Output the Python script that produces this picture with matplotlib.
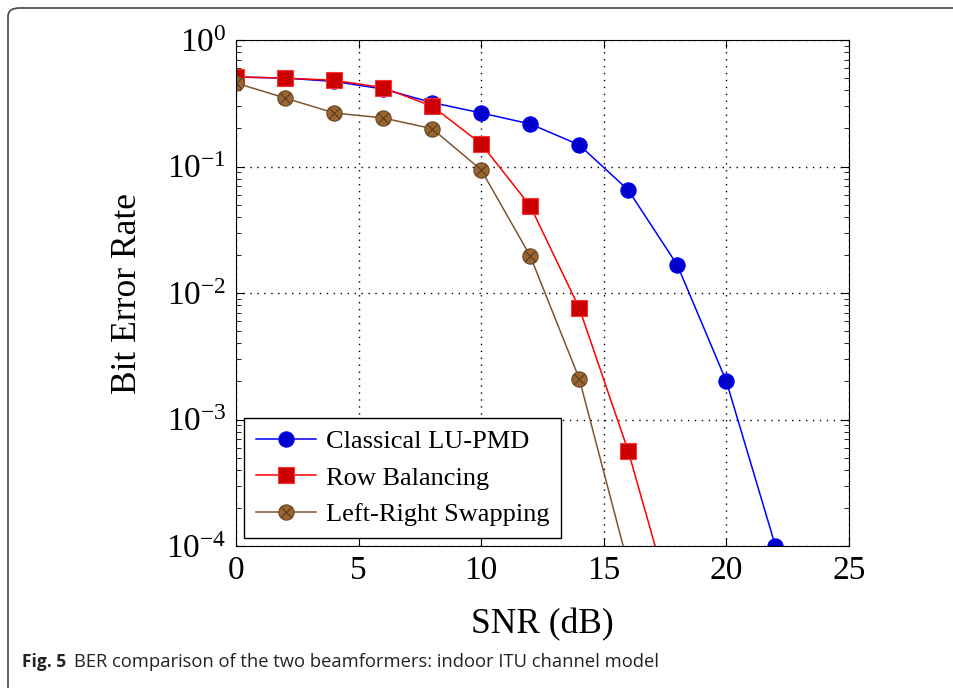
import numpy as np
import matplotlib
matplotlib.use('Agg')
import matplotlib.pyplot as plt
from matplotlib.patches import FancyBboxPatch
from matplotlib.legend_handler import HandlerTuple
from matplotlib.ticker import LogLocator, NullFormatter

plt.rcParams['font.family'] = ['Liberation Serif', 'DejaVu Serif']
plt.rcParams['mathtext.fontset'] = 'stix'

snr = [0, 2, 4, 6, 8, 10, 12, 14, 16, 18, 20, 22]
ber_classical = [0.51, 0.50, 0.47, 0.41, 0.32, 0.265, 0.217, 0.148, 0.065, 0.0166, 0.0020, 1.0e-4]

snr_rb = [0, 2, 4, 6, 8, 10, 12, 14, 16, 18]
ber_row_balancing = [0.51, 0.50, 0.48, 0.42, 0.30, 0.151, 0.0487, 0.0076, 5.6e-4, 2.4e-5]

snr_lr = [0, 2, 4, 6, 8, 10, 12, 14, 16]
ber_left_right = [0.457, 0.348, 0.265, 0.242, 0.199, 0.094, 0.0196, 0.0021, 7.0e-5]

fig = plt.figure(figsize=(9.54, 6.88), dpi=100)

# journal frame around the figure
frame = FancyBboxPatch((8 / 954, -0.05), 1.2, 1.05 - 8 / 688,
                       boxstyle='round,pad=0,rounding_size=0.012',
                       transform=fig.transFigure, fill=False,
                       edgecolor='#444444', linewidth=1.2)
fig.patches.append(frame)

ax = fig.add_axes([236 / 954, 1 - 546 / 688, (849 - 236) / 954, (546 - 40) / 688])

l1, = ax.plot(snr, ber_classical, color='#0000ff', lw=1.1, marker='o', ms=11,
              mfc='#0000cc', mec='#0000ff', mew=0.8)
l2, = ax.plot(snr_rb, ber_row_balancing, color='#ff0000', lw=1.1, marker='s', ms=11,
              mfc='#cc0000', mec='#ff3333', mew=0.8)
l3, = ax.plot(snr_lr, ber_left_right, color='#7f5530', lw=1.1, marker='o', ms=11,
              mfc='#996633', mec='#6b4420', mew=0.8)
l3x, = ax.plot(snr_lr, ber_left_right, ls='none', marker='x', ms=7,
               mec='#5a3a1a', mew=0.8)

ax.set_yscale('log')
ax.set_xlim(0, 25)
ax.set_ylim(1e-4, 1)
ax.set_xticks([0, 5, 10, 15, 20, 25])
ax.set_yticks([1e-4, 1e-3, 1e-2, 1e-1, 1])
ax.yaxis.set_minor_locator(LogLocator(base=10, subs=np.arange(2, 10)))
ax.yaxis.set_minor_formatter(NullFormatter())
ax.tick_params(which='both', direction='in', top=True, right=True)
ax.tick_params(which='major', length=6, labelsize=24, pad=7)
ax.tick_params(which='minor', length=3.5)
ax.grid(True, which='major', color='black', ls=(0, (1, 4)), lw=1.0)

ax.set_xlabel('SNR (dB)', fontsize=25.5, labelpad=16)
ax.set_ylabel('Bit Error Rate', fontsize=25.5, labelpad=16)

leg = ax.legend([l1, l2, (l3, l3x)],
                ['Classical LU-PMD', 'Row Balancing', 'Left-Right Swapping'],
                handler_map={tuple: HandlerTuple(ndivide=1, pad=0)},
                loc='lower left', fontsize=19, fancybox=False, framealpha=1,
                edgecolor='black', handlelength=2.3, borderaxespad=0.3,
                labelspacing=0.5, handletextpad=0.35, borderpad=0.45)
leg.get_frame().set_linewidth(1.0)

fig.text(22 / 954, 1 - 662 / 688, 'Fig. 5', fontsize=12.5, family='Open Sans',
         fontweight='bold', va='center', color='#222222')
fig.text(74 / 954, 1 - 662 / 688, 'BER comparison of the two beamformers: indoor ITU channel model',
         fontsize=13.2, family='Open Sans', va='center', color='#222222')

fig.savefig('out.png', dpi=100)
